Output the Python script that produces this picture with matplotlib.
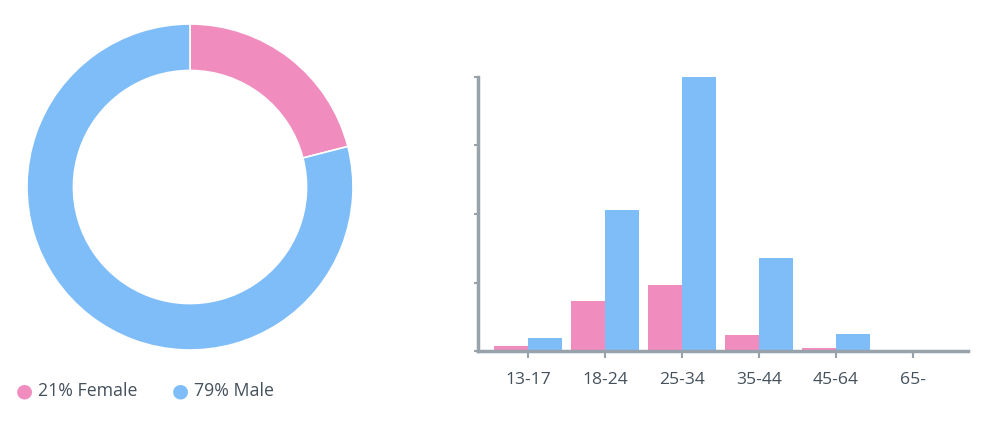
import numpy as np
import matplotlib
matplotlib.use("Agg")
import matplotlib.pyplot as plt

plt.rcParams['font.family'] = ['Open Sans', 'DejaVu Sans']

# gender split (donut)
genders = ["Female", "Male"]
gender_share = [21, 79]

# age split per gender, percent of audience
age_groups = ["13-17", "18-24", "25-34", "35-44", "45-64", "65-"]
female_pct = [0.7, 7.3, 9.6, 2.3, 0.4, 0.0]
male_pct = [1.9, 20.6, 40.0, 13.6, 2.5, 0.0]

PINK = "#f08cbe"
BLUE = "#7fbdf9"
AXIS = "#98a2ab"
TEXT = "#44515c"

W, H = 992, 422
fig = plt.figure(figsize=(W / 100, H / 100), dpi=100)

# donut chart
ax1 = fig.add_axes([27 / W, 72 / H, 326 / W, 326 / H])
ax1.pie(gender_share, colors=[PINK, BLUE], startangle=90, counterclock=False,
        radius=1.0, wedgeprops=dict(width=0.285, edgecolor="white", linewidth=1.2))
ax1.set_xlim(-1, 1)
ax1.set_ylim(-1, 1)
ax1.set_aspect("equal")
ax1.axis("off")

# legend under the donut
for i, (g, s, c) in enumerate(zip(genders, gender_share, [PINK, BLUE])):
    x0 = 24 + i * 156
    fig.text(x0 / W, 1 - 391 / H, "\u25CF", color=c, fontsize=14,
             ha="center", va="center", family=["DejaVu Sans"])
    fig.text((x0 + 14) / W, 1 - 391 / H, f"{s}% {g}", color=TEXT,
             fontsize=12.8, ha="left", va="center")

# grouped bars
ax2 = fig.add_axes([478 / W, 71 / H, 490 / W, 274 / H])
x = np.arange(len(age_groups))
bw = 0.44
ax2.bar(x - bw / 2, female_pct, width=bw, color=PINK, linewidth=0)
ax2.bar(x + bw / 2, male_pct, width=bw, color=BLUE, linewidth=0)
ax2.set_xlim(-50 / 77, 440 / 77)
ax2.set_ylim(0, 40)
ax2.set_xticks(x)
ax2.set_xticklabels(age_groups)
ax2.set_yticks([0, 10, 20, 30, 40])
ax2.set_yticklabels([])
for side in ["top", "right"]:
    ax2.spines[side].set_visible(False)
for side in ["left", "bottom"]:
    ax2.spines[side].set_color(AXIS)
    ax2.spines[side].set_linewidth(2.5)
ax2.tick_params(axis="x", colors=AXIS, length=5, width=1.5, labelcolor=TEXT,
                labelsize=12.6, pad=10)
ax2.tick_params(axis="y", colors=AXIS, length=3, width=1.5)

fig.savefig("out.png", dpi=100)
